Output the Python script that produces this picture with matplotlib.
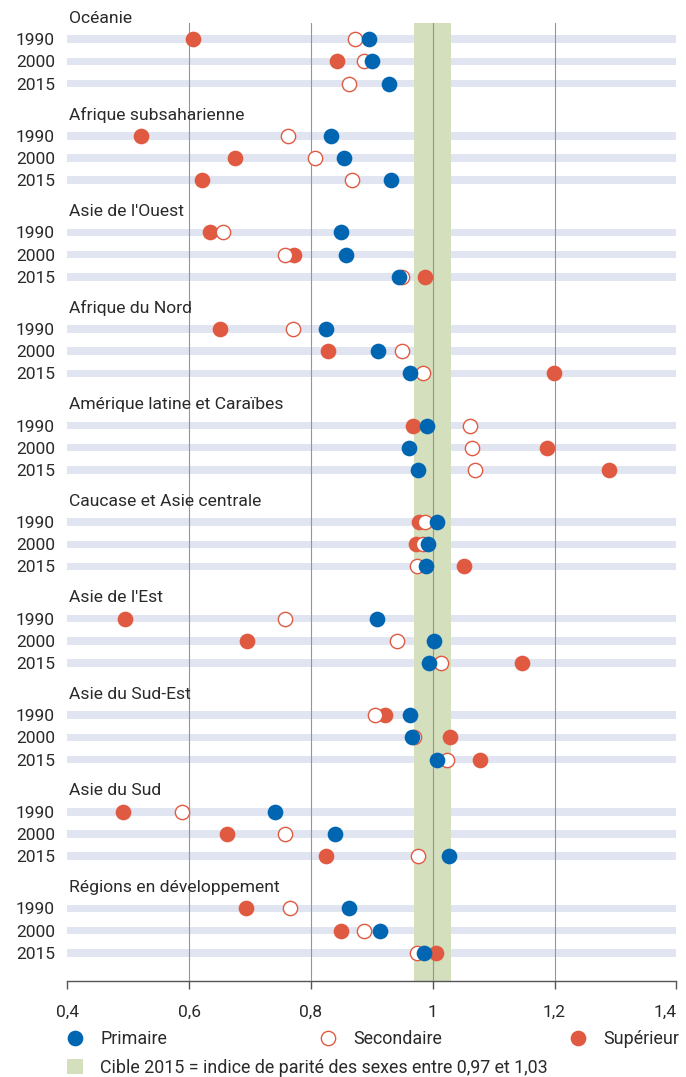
import numpy as np
import matplotlib
matplotlib.use("Agg")
import matplotlib.pyplot as plt
from matplotlib.lines import Line2D
from matplotlib.patches import Patch

plt.rcParams['font.family'] = ['Roboto', 'DejaVu Sans']

regions = ["Océanie", "Afrique subsaharienne", "Asie de l'Ouest", "Afrique du Nord",
           "Amérique latine et Caraïbes", "Caucase et Asie centrale", "Asie de l'Est",
           "Asie du Sud-Est", "Asie du Sud", "Régions en développement"]
years = ["1990", "2000", "2015"]

# indice de parité des sexes, one row per region: [1990, 2000, 2015]
primaire = [[0.895, 0.900, 0.929],
            [0.833, 0.854, 0.931],
            [0.849, 0.858, 0.944],
            [0.824, 0.911, 0.963],
            [0.991, 0.961, 0.976],
            [1.007, 0.993, 0.989],
            [0.908, 1.002, 0.994],
            [0.962, 0.966, 1.007],
            [0.741, 0.839, 1.027],
            [0.862, 0.914, 0.985]]
secondaire = [[0.872, 0.887, 0.863],
              [0.763, 0.807, 0.867],
              [0.655, 0.758, 0.950],
              [0.771, 0.950, 0.984],
              [1.061, 1.064, 1.070],
              [0.988, 0.984, 0.974],
              [0.757, 0.941, 1.014],
              [0.905, 0.969, 1.023],
              [0.588, 0.757, 0.976],
              [0.766, 0.887, 0.974]]
superieur = [[0.606, 0.843, np.nan],
             [0.521, 0.675, 0.621],
             [0.634, 0.773, 0.987],
             [0.650, 0.828, 1.199],
             [0.967, 1.187, 1.290],
             [0.977, 0.973, 1.051],
             [0.495, 0.695, 1.146],
             [0.921, 1.029, 1.077],
             [0.492, 0.663, 0.824],
             [0.693, 0.849, 1.006]]
target = (0.97, 1.03)

BLUE = "#0066b2"
RED = "#e05a41"
BAR = "#e1e5f2"
BAND = "#d4dfbe"
GRID = "#959595"
TXT = "#2a2a2a"

step = 4.35
rows = np.array([[g * step + r for r in range(3)] for g in range(len(regions))])

fig = plt.figure(figsize=(6.86, 10.77), dpi=100)
ax = fig.add_axes([67.3 / 686, 1 - 981 / 1077, 609 / 686, 958 / 1077])

# background bars for every row
for y in rows.ravel():
    ax.barh(y, 1.0, left=0.4, height=0.34, color=BAR, zorder=1)

ax.axvspan(*target, color=BAND, lw=0, zorder=2)
for gx in [0.6, 0.8, 1.0, 1.2]:
    ax.axvline(gx, color=GRID, lw=0.8, zorder=3)

ms = 11.3
for g in range(len(regions)):
    ax.plot(superieur[g], rows[g], 'o', ls='none', ms=ms, mew=0, color=RED, zorder=4)
    ax.plot(secondaire[g], rows[g], 'o', ls='none', ms=ms - 1.0, mew=1.0,
            mfc='white', mec=RED, zorder=5)
    ax.plot(primaire[g], rows[g], 'o', ls='none', ms=ms, mew=0, color=BLUE, zorder=6)
    ax.text(0.402, rows[g][0] - 0.95, regions[g], ha='left', va='center',
            fontsize=12.6, color=TXT)

ax.set_xlim(0.4, 1.4)
ax.set_ylim(42.42, -0.73)
ax.set_yticks(rows.ravel())
ax.set_yticklabels(years * len(regions), fontsize=12.5, color=TXT)
ax.tick_params(axis='y', length=0, pad=9)

xt = [0.4, 0.6, 0.8, 1.0, 1.2, 1.4]
ax.set_xticks(xt)
ax.set_xticklabels(["0,4", "0,6", "0,8", "1", "1,2", "1,4"], fontsize=12.5, color=TXT)
ax.get_xticklabels()[-1].set_horizontalalignment('right')
ax.tick_params(axis='x', length=6, width=1, color="#555555", pad=11)

for s in ['top', 'right', 'left']:
    ax.spines[s].set_visible(False)
ax.spines['bottom'].set_color("#555555")
ax.spines['bottom'].set_linewidth(1)

# legend entries
lfs = 12.9
hl = 16.67 / (lfs * 100 / 72)
entries = [
    (Line2D([], [], marker='o', ls='none', ms=ms, mew=0, color=BLUE), "Primaire", 66.7),
    (Line2D([], [], marker='o', ls='none', ms=ms - 1.0, mew=1.0, mfc='white', mec=RED), "Secondaire", 319.5),
    (Line2D([], [], marker='o', ls='none', ms=ms, mew=0, color=RED), "Supérieur", 569.5),
]
for h, lab, x0 in entries:
    fig.legend(handles=[h], labels=[lab], loc='center left',
               bbox_to_anchor=(x0 / 686, 1 - 1039 / 1077), frameon=False,
               borderpad=0, borderaxespad=0, handlelength=hl, handletextpad=hl,
               fontsize=lfs, labelcolor=TXT)
fig.legend(handles=[Patch(color=BAND, lw=0)],
           labels=["Cible 2015 = indice de parité des sexes entre 0,97 et 1,03"],
           loc='center left', bbox_to_anchor=(66.7 / 686, 1 - 1068 / 1077), frameon=False,
           borderpad=0, borderaxespad=0, handlelength=hl, handleheight=hl,
           handletextpad=hl, fontsize=lfs, labelcolor=TXT)

fig.savefig("out.png", dpi=100)
